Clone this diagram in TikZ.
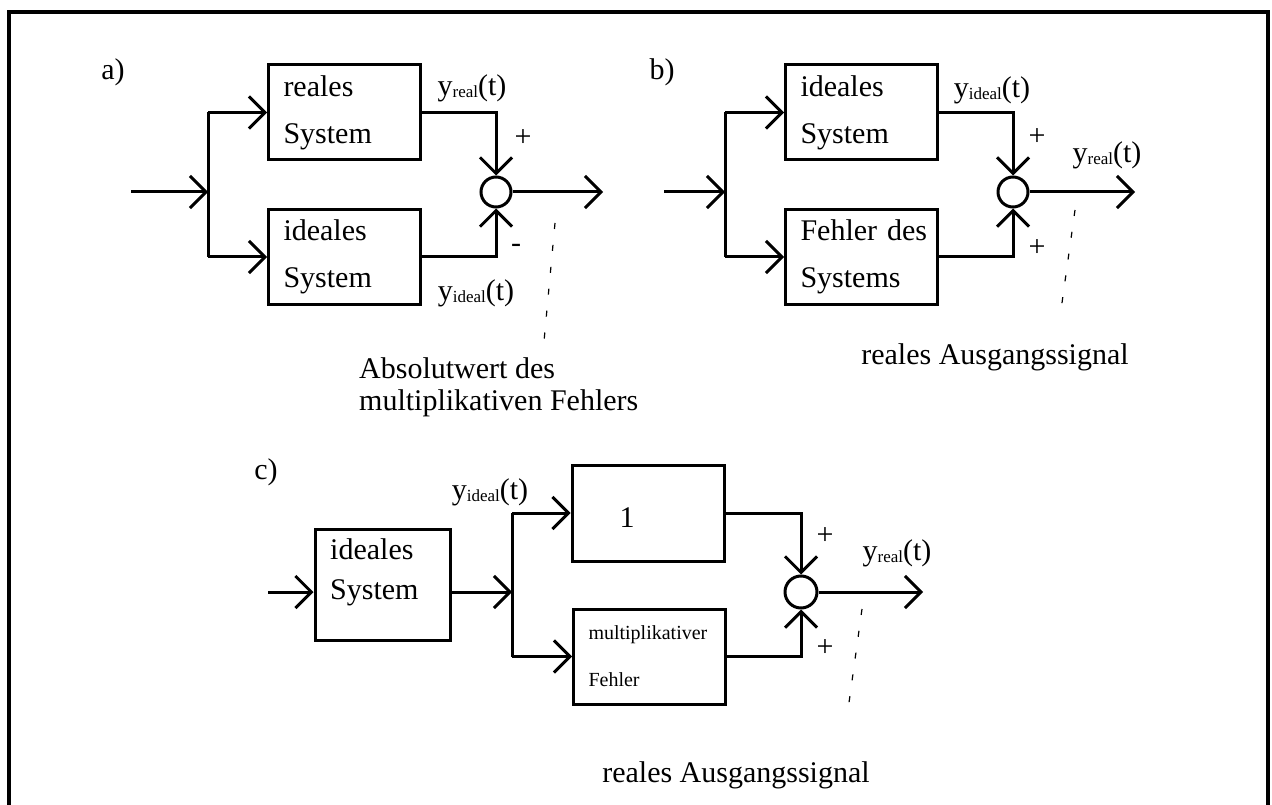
\documentclass[tikz,border=0pt]{standalone}
\usepackage{fontspec}
\setmainfont{Liberation Serif}
\usetikzlibrary{arrows.meta}
\newcommand{\sig}[1]{y{\fontsize{17}{17}\selectfont\raisebox{-2pt}{#1}}(t)}
\tikzset{
  every node/.style={font=\fontsize{30}{47}\selectfont},
  ln/.style={line width=3pt, line cap=butt, line join=miter},
  arr/.style={ln, -{Straight Barb[length=16pt,width=32pt,line join=miter]}},
  box/.style={draw, line width=3pt, minimum width=152pt, minimum height=95pt,
    inner xsep=15pt, inner ysep=0pt, text width=122pt, align=left},
  sum/.style={draw, circle, line width=3pt, minimum size=30pt, inner sep=0pt},
  dotline/.style={line width=1.2pt, dash pattern=on 6pt off 16pt},
  lbl/.style={inner sep=0pt},
  small/.style={font=\fontsize{20}{47}\selectfont}
}
\begin{document}
\begin{tikzpicture}[x=1pt,y=-1pt]
\useasboundingbox (0,0) rectangle (1272,805);
% frame
\draw[line width=3.5pt] (9,805) -- (9,12) -- (1268,12) -- (1268,805);

% ---------- a) ----------
\node[lbl] (la) at (113,72) {a)};
\node[box] (aR) at (344.5,112.5) {reales\\System};
\node[box] (aI) at (344.5,257) {ideales\\System};
\node[sum] (aS) at (496,192) {};
\coordinate (aIn) at (131,192);
\coordinate (aJ) at (208,192);
\coordinate (aJt) at (208,112.5);
\coordinate (aJb) at (208,257);
\coordinate (aOut) at (603,192);
\draw[arr] (aIn) -- (aJ);
\draw[ln] (aJt) -- (aJb);
\draw[arr] (aJt) -- (aR.west);
\draw[arr] (aJb) -- (aI.west);
\draw[arr] (aR.east) -| (aS.north);
\draw[arr] (aI.east) -| (aS.south);
\draw[arr] (aS.east) -- (aOut);
\node[lbl] (aYr) at (472,88) {\sig{real}};
\node[lbl] (aYi) at (476,293) {\sig{ideal}};
\node[lbl] (aP) at (523,138) {+};
\node[lbl] (aM) at (516,248) {-};
\node[lbl, anchor=west, align=left, font=\fontsize{30}{32}\selectfont] (aT) at (359,387) {Absolutwert des\\multiplikativen Fehlers};
\coordinate (aD1) at (555,223);
\coordinate (aD2) at (543,352);
\draw[dotline] (aD1) -- (aD2);

% ---------- b) ----------
\node[lbl] (lb) at (662,72) {b)};
\node[box] (bI) at (861.5,112.5) {ideales\\System};
\node[box] (bF) at (861.5,257) {Fehler~des\\Systems};
\node[sum] (bS) at (1013,192) {};
\coordinate (bIn) at (664,192);
\coordinate (bJ) at (725,192);
\coordinate (bJt) at (725,112.5);
\coordinate (bJb) at (725,257);
\coordinate (bOut) at (1135,192);
\draw[arr] (bIn) -- (bJ);
\draw[ln] (bJt) -- (bJb);
\draw[arr] (bJt) -- (bI.west);
\draw[arr] (bJb) -- (bF.west);
\draw[arr] (bI.east) -| (bS.north);
\draw[arr] (bF.east) -| (bS.south);
\draw[arr] (bS.east) -- (bOut);
\node[lbl] (bYi) at (992,90) {\sig{ideal}};
\node[lbl] (bYr) at (1107,155) {\sig{real}};
\node[lbl] (bP1) at (1037,137) {+};
\node[lbl] (bP2) at (1037,248) {+};
\node[lbl] (bT) at (995,357) {reales Ausgangssignal};
\coordinate (bD1) at (1075,210);
\coordinate (bD2) at (1060,317);
\draw[dotline] (bD1) -- (bD2);

% ---------- c) ----------
\node[lbl] (lc) at (266,472) {c)};
\node[box, minimum width=135pt, text width=105pt, minimum height=111pt] (cI) at (382.5,584.5) {};
\node[lbl, anchor=west, align=left, font=\fontsize{30}{40}\selectfont] (cIt) at (330,572) {ideales\\System};
\node[box, minimum height=96pt] (c1) at (648,513) {};
\node[lbl] (c1t) at (627,518) {1};
\node[box, small, minimum height=95pt] (cM) at (649.5,656.5) {multiplikativer\\Fehler};
\node[sum, minimum size=32pt] (cS) at (801,592) {};
\coordinate (cIn) at (268,592);
\coordinate (cJ) at (512,592);
\coordinate (cJt) at (512,513);
\coordinate (cJb) at (512,656.5);
\coordinate (cOut) at (923,592);
\draw[arr] (cIn) -- (cI.west |- cIn);
\draw[arr] (cI.east |- cJ) -- (cJ);
\draw[ln] (cJt) -- (cJb);
\draw[arr] (cJt) -- (c1.west);
\draw[arr] (cJb) -- (cM.west);
\draw[arr] (c1.east) -| (cS.north);
\draw[arr] (cM.east) -| (cS.south);
\draw[arr] (cS.east) -- (cOut);
\node[lbl] (cYi) at (490,492) {\sig{ideal}};
\node[lbl] (cYr) at (897,553) {\sig{real}};
\node[lbl] (cP1) at (825,536) {+};
\node[lbl] (cP2) at (825,648) {+};
\node[lbl] (cT) at (736,775) {reales Ausgangssignal};
\coordinate (cD1) at (862,609);
\coordinate (cD2) at (847,717);
\draw[dotline] (cD1) -- (cD2);
\end{tikzpicture}
\end{document}
